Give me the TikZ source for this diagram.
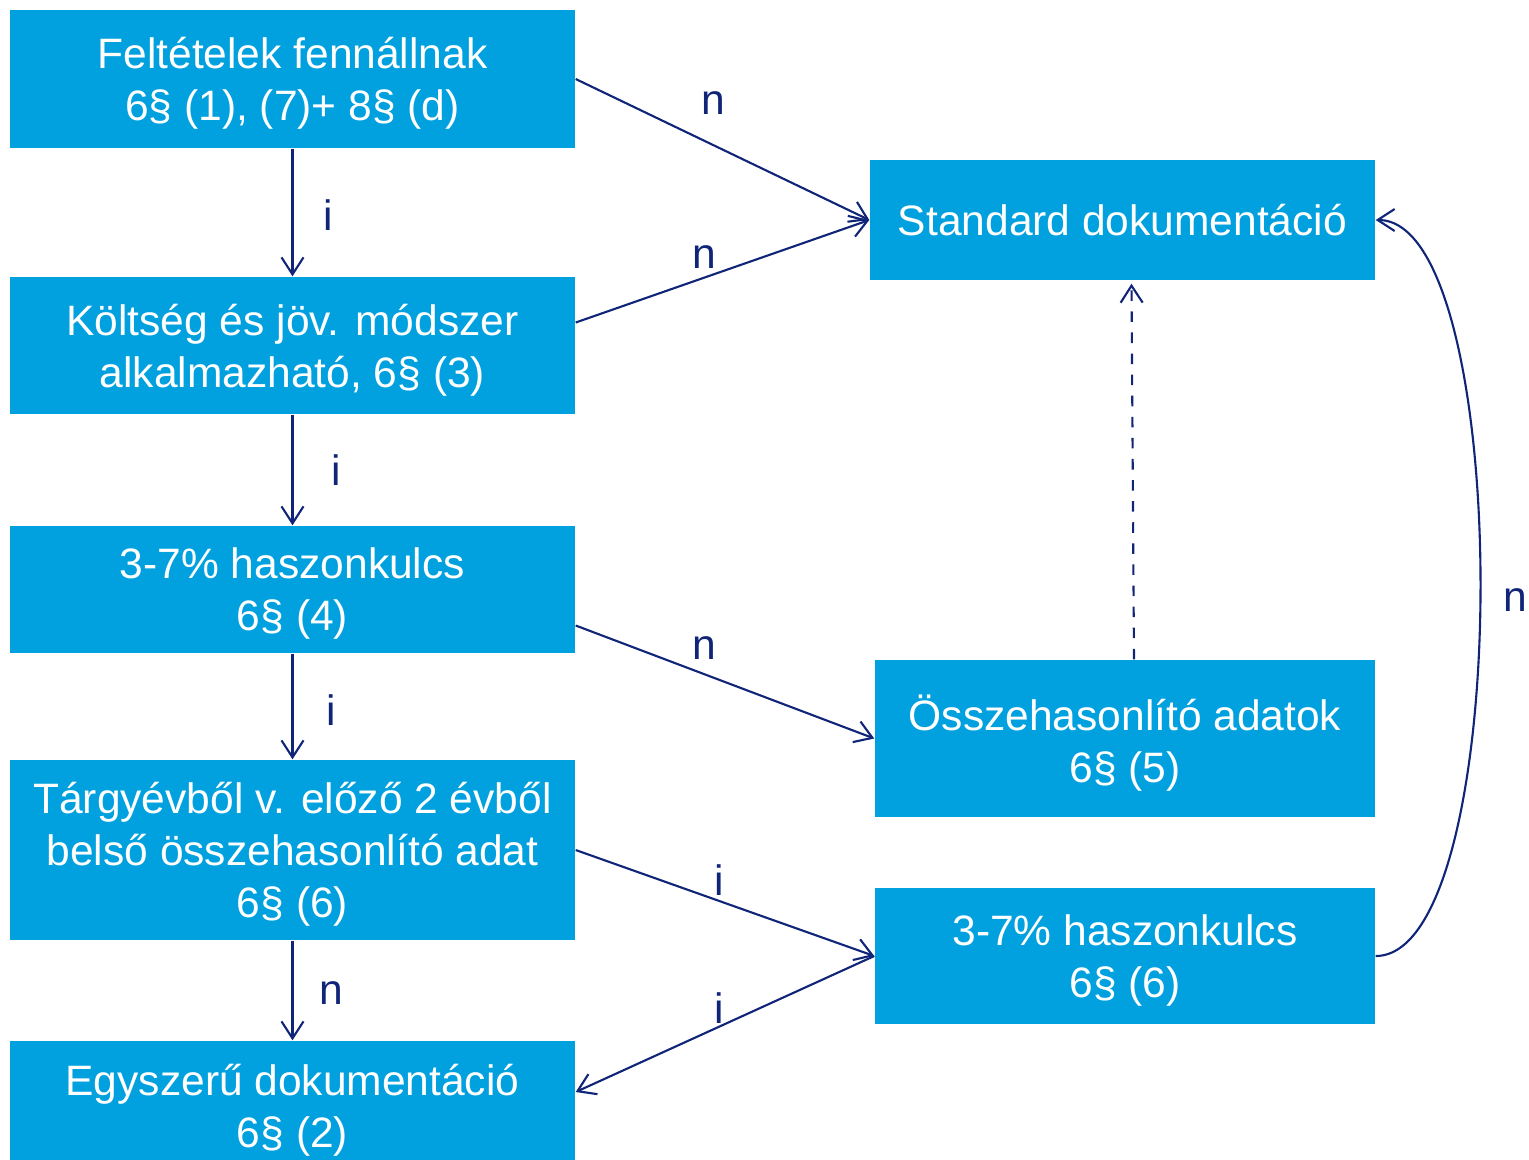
\documentclass[tikz,border=0pt]{standalone}
\usepackage{fontspec}
\setmainfont{Liberation Sans}
\usetikzlibrary{arrows.meta}
\definecolor{boxblue}{RGB}{0,161,222}
\definecolor{navy}{RGB}{16,36,120}
\begin{document}
\begin{tikzpicture}[
  box/.style={fill=boxblue,text=white,align=center,inner sep=0pt,text depth=0pt,
    font=\fontsize{12.1}{14.8}\selectfont},
  arr/.style={draw=navy,line width=0.6pt,-{Straight Barb[length=1.7mm,width=2.2mm]}},
  lab/.style={text=navy,font=\fontsize{12.1}{14.8}\selectfont}]
  \useasboundingbox (0,0) rectangle (15.29,-11.59);
  % left column
  \node[box,minimum width=5.65cm,minimum height=1.38cm] (fel)   at (2.925,-0.79)  {Feltételek fennállnak\\6§ (1), (7)+ 8§ (d)};
  \node[box,minimum width=5.65cm,minimum height=1.37cm] (kolt)  at (2.925,-3.455) {Költség és jöv. módszer\\alkalmazható, 6§ (3)};
  \node[box,minimum width=5.65cm,minimum height=1.27cm] (has)   at (2.925,-5.895) {3-7\% haszonkulcs\\6§ (4)};
  \node[box,minimum width=5.65cm,minimum height=1.80cm] (targy) at (2.925,-8.50)  {Tárgyévből v. előző 2 évből\\belső összehasonlító adat\\6§ (6)};
  \node[box,minimum width=5.65cm,minimum height=1.30cm] (egy)   at (2.925,-11.06) {Egyszerű dokumentáció\\6§ (2)};
  % right column
  \node[box,text depth=,minimum width=5.05cm,minimum height=1.20cm] (std) at (11.225,-2.20) {Standard dokumentáció};
  \node[box,minimum width=5.00cm,minimum height=1.57cm] (ossz) at (11.25,-7.385) {Összehasonlító adatok\\6§ (5)};
  \node[box,minimum width=5.00cm,minimum height=1.36cm] (has6) at (11.25,-9.56)  {3-7\% haszonkulcs\\6§ (6)};
  % connectors
  \draw[arr] (fel) -- (kolt);
  \draw[arr] (kolt) -- (has);
  \draw[arr] (has) -- (targy);
  \draw[arr] (targy) -- (egy);
  \draw[arr] (fel.east) -- (std.west);
  \draw[arr] ([yshift=2.3mm]kolt.east) -- (std.west);
  \draw[arr] ([yshift=-3.6mm]has.east) -- (ossz.west);
  \draw[arr] (targy.east) -- (has6.west);
  \draw[arr] (has6.west) -- ([yshift=1.4mm]egy.east);
  \draw[arr,dashed] ([xshift=0.9mm]ossz.north) -- ([xshift=0.9mm,yshift=-0.3mm]std.south);
  \draw[arr] (has6.east) .. controls (15.15,-9.56) and (15.15,-2.20) .. (std.east);
  % labels
  \node[lab] (l1) at (3.28,-2.15)  {i};
  \node[lab] (l2) at (3.36,-4.70)  {i};
  \node[lab] (l3) at (3.31,-7.10)  {i};
  \node[lab] (l4) at (3.31,-9.93)  {n};
  \node[lab] (l5) at (7.13,-1.03)  {n};
  \node[lab] (l6) at (7.04,-2.57)  {n};
  \node[lab] (l7) at (7.04,-6.48)  {n};
  \node[lab] (l8) at (7.19,-8.80)  {i};
  \node[lab] (l9) at (7.19,-10.08) {i};
  \node[lab] (l10) at (15.15,-6.00) {n};
\end{tikzpicture}
\end{document}
